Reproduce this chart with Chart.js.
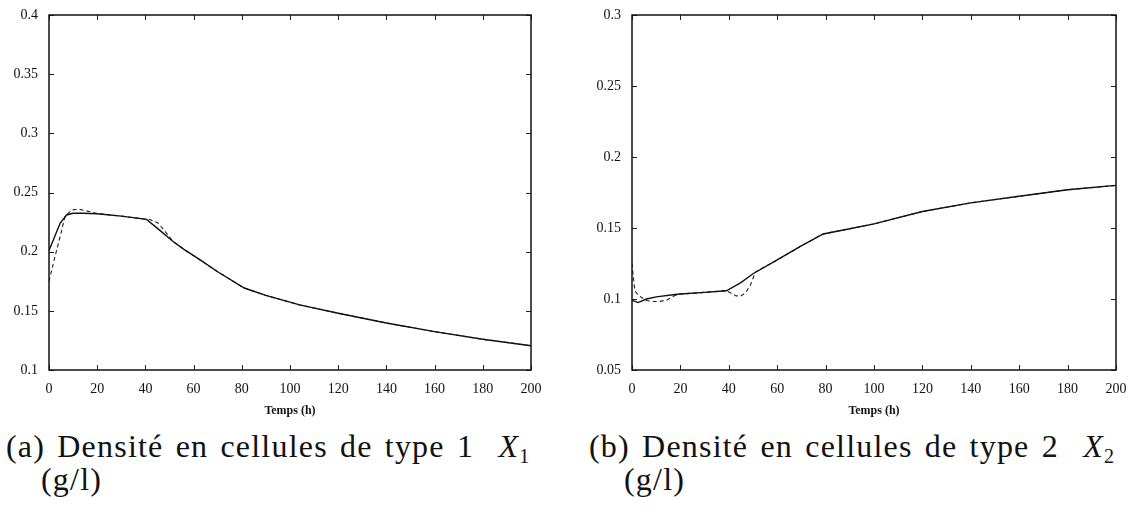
<!DOCTYPE html>
<html>
<head>
<meta charset="utf-8">
<script src="https://cdn.jsdelivr.net/npm/chart.js@4"></script>
<style>
  body { margin: 0; background: #fff; }
  #wrap { position: relative; width: 1132px; height: 522px; background: #fff; overflow: hidden; }
  canvas { position: absolute; top: 0; }
  .cap { position: absolute; font-family: "Liberation Serif", "DejaVu Serif", "Times New Roman", serif; font-size: 32px; line-height: 36px; color: #111; white-space: nowrap; letter-spacing: 1.2px; word-spacing: 3px; }
  .cap i { font-style: italic; }
  .cap sub { font-size: 20px; vertical-align: -6px; letter-spacing: 0; }
</style>
</head>
<body>
<div id="wrap">
  <canvas id="chartA" width="560" height="420" style="left:0"></canvas>
  <canvas id="chartB" width="572" height="420" style="left:560px"></canvas>
  <div class="cap" style="left:6px; top:428px">(a) Densité en cellules de type 1&nbsp; <i>X</i><sub>1</sub></div>
  <div class="cap" style="left:41px; top:461px">(g/l)</div>
  <div class="cap" style="left:589px; top:428px">(b) Densité en cellules de type 2&nbsp; <i>X</i><sub>2</sub></div>
  <div class="cap" style="left:624px; top:461px">(g/l)</div>
</div>
<script>
// temps (h)
const xTicks = [0, 20, 40, 60, 80, 100, 120, 140, 160, 180, 200];
const xTickLabels = ['0', '20', '40', '60', '80', '100', '120', '140', '160', '180', '200'];

// figure (a) : X1
const yTicksA = [0.1, 0.15, 0.2, 0.25, 0.3, 0.35, 0.4];
const yTickLabelsA = ['0.1', '0.15', '0.2', '0.25', '0.3', '0.35', '0.4'];
const timeSolidA = [0, 2, 4.6, 7.3, 10, 14, 20, 30, 40.5, 46, 51.6, 56, 62.7, 70, 81, 90, 104, 120, 140, 160, 180, 200];
const x1Solid = [0.201, 0.211, 0.224, 0.231, 0.2325, 0.2325, 0.232, 0.230, 0.2273, 0.218, 0.2084, 0.202, 0.193, 0.183, 0.1693, 0.163, 0.155, 0.148, 0.1397, 0.1324, 0.126, 0.1205];
const timeDashedA = [0, 1.2, 2.5, 4.6, 6.6, 9.4, 12.5, 17, 20, 30, 40.5, 41.9, 45.4, 48.8, 51.6, 56, 62.7, 70, 81, 90, 104, 120, 140, 160, 180, 200];
const x1Dashed = [0.175, 0.185, 0.196, 0.2126, 0.2296, 0.2352, 0.2358, 0.2338, 0.2322, 0.230, 0.2273, 0.2272, 0.224, 0.2155, 0.2084, 0.202, 0.193, 0.183, 0.1693, 0.163, 0.155, 0.148, 0.1397, 0.1324, 0.126, 0.1205];

// figure (b) : X2
const yTicksB = [0.05, 0.1, 0.15, 0.2, 0.25, 0.3];
const yTickLabelsB = ['0.05', '0.1', '0.15', '0.2', '0.25', '0.3'];
const timeSolidB = [0, 2.5, 6, 10, 17, 20, 30, 39, 45, 50, 60, 69.4, 79, 90, 100, 120, 140, 160, 180, 200];
const x2Solid = [0.0992, 0.0975, 0.100, 0.1015, 0.103, 0.1035, 0.1047, 0.1058, 0.1115, 0.1178, 0.1275, 0.1369, 0.1458, 0.1495, 0.1529, 0.1616, 0.1677, 0.1724, 0.1769, 0.180];
const timeDashedB = [0, 0.5, 1.2, 2.5, 4, 6, 8.7, 11, 14.3, 17.5, 20, 30, 39, 41, 43, 45, 47, 49, 51, 60, 69.4, 79, 90, 100, 120, 140, 160, 180, 200];
const x2Dashed = [0.125, 0.116, 0.1058, 0.103, 0.101, 0.099, 0.0982, 0.0982, 0.0992, 0.1023, 0.1035, 0.1047, 0.1058, 0.104, 0.1022, 0.1022, 0.1045, 0.110, 0.119, 0.1275, 0.1369, 0.1458, 0.1495, 0.1529, 0.1616, 0.1677, 0.1724, 0.1769, 0.180];

const pts = (xs, ys) => xs.map((x, i) => ({ x: x, y: ys[i] }));
const serif = '"Liberation Serif", "DejaVu Serif", "Times New Roman", serif';

// cadre + graduations vers l'interieur (style matlab)
const frameTicksPlugin = {
    id: 'frameTicks',
    afterDraw(chart) {
        const { ctx, chartArea: a, scales } = chart;
        const len = 5;
        ctx.save();
        ctx.strokeStyle = '#222';
        ctx.lineWidth = 1;
        scales.x.ticks.forEach(t => {
            const px = Math.round(scales.x.getPixelForValue(t.value)) + 0.5;
            ctx.beginPath();
            ctx.moveTo(px, a.bottom); ctx.lineTo(px, a.bottom - len);
            ctx.moveTo(px, a.top); ctx.lineTo(px, a.top + len);
            ctx.stroke();
        });
        scales.y.ticks.forEach(t => {
            const py = Math.round(scales.y.getPixelForValue(t.value)) + 0.5;
            ctx.beginPath();
            ctx.moveTo(a.left, py); ctx.lineTo(a.left + len, py);
            ctx.moveTo(a.right, py); ctx.lineTo(a.right - len, py);
            ctx.stroke();
        });
        ctx.lineWidth = 1.5;
        ctx.strokeStyle = '#111';
        ctx.strokeRect(a.left, a.top, a.right - a.left, a.bottom - a.top);
        ctx.restore();
    }
};

function createChart(canvas, opts) {
    const tickFont = { family: serif, size: 14 };
    return new Chart(canvas, {
        type: 'line',
        data: {
            datasets: [{
                data: pts(opts.tSolid, opts.solid),
                borderColor: '#111',
                borderWidth: 1.4,
                pointRadius: 0,
                tension: 0
            }, {
                data: pts(opts.tDashed, opts.dashed),
                borderColor: '#222',
                borderWidth: 1.1,
                borderDash: [4, 3],
                pointRadius: 0,
                tension: 0
            }]
        },
        options: {
            responsive: false,
            animation: false,
            layout: { padding: { top: 15, right: opts.padRight, bottom: 0, left: 0 } },
            scales: {
                x: {
                    type: 'linear',
                    min: 0, max: 200,
                    afterBuildTicks: s => { s.ticks = xTicks.map(v => ({ value: v })); },
                    afterFit: s => { s.height = 50; },
                    grid: { display: false },
                    border: { display: false },
                    ticks: {
                        color: '#111', font: tickFont, padding: 3, maxRotation: 0,
                        callback: (v, i) => xTickLabels[i]
                    },
                    title: {
                        display: true, text: 'Temps (h)', color: '#111',
                        font: { family: serif, size: 12, weight: 'bold' },
                        padding: { top: 0, bottom: 2 }
                    }
                },
                y: {
                    min: opts.yMin, max: opts.yMax,
                    afterBuildTicks: s => { s.ticks = opts.yTicks.map(v => ({ value: v })); },
                    afterFit: s => { s.width = opts.axisWidth; },
                    grid: { display: false },
                    border: { display: false },
                    ticks: {
                        color: '#111', font: tickFont, padding: 3,
                        callback: (v, i) => opts.yLabels[i]
                    }
                }
            },
            plugins: {
                legend: { display: false },
                tooltip: { enabled: false }
            }
        },
        plugins: [frameTicksPlugin]
    });
}

createChart(document.getElementById('chartA'), {
    tSolid: timeSolidA, solid: x1Solid, tDashed: timeDashedA, dashed: x1Dashed,
    yMin: 0.1, yMax: 0.4, yTicks: yTicksA, yLabels: yTickLabelsA,
    axisWidth: 49, padRight: 29
});
createChart(document.getElementById('chartB'), {
    tSolid: timeSolidB, solid: x2Solid, tDashed: timeDashedB, dashed: x2Dashed,
    yMin: 0.05, yMax: 0.3, yTicks: yTicksB, yLabels: yTickLabelsB,
    axisWidth: 72, padRight: 16
});
</script>
</body>
</html>
